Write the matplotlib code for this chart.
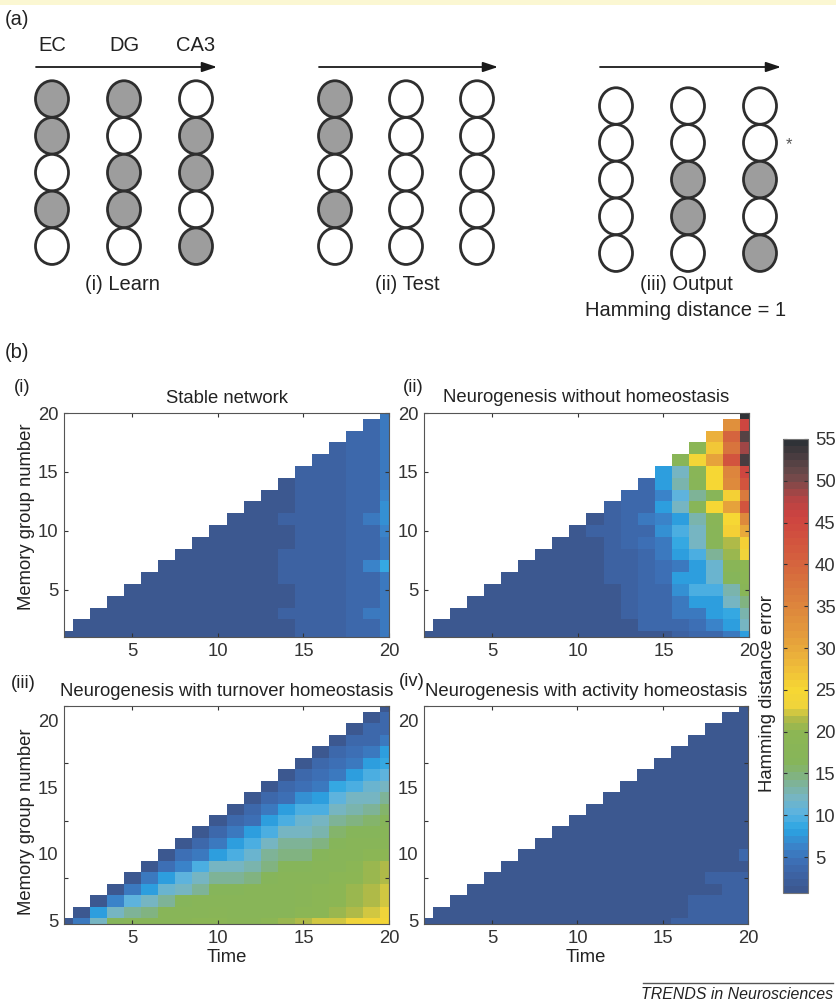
import numpy as np
import matplotlib
matplotlib.use('Agg')
import matplotlib.pyplot as plt
from matplotlib.colors import LinearSegmentedColormap
from matplotlib.patches import Ellipse, Rectangle

plt.rcParams['font.family'] = ['Liberation Sans', 'DejaVu Sans']

# (a) cell activity, 1 = active (grey), listed top to bottom
learn_ec = [1, 1, 0, 1, 0]
learn_dg = [1, 0, 1, 1, 0]
learn_ca3 = [0, 1, 1, 0, 1]
test_ec = [1, 1, 0, 1, 0]
test_dg = [0, 0, 0, 0, 0]
test_ca3 = [0, 0, 0, 0, 0]
out_ec = [0, 0, 0, 0, 0]
out_dg = [0, 0, 1, 1, 0]
out_ca3 = [0, 0, 1, 0, 1]

# (b) Hamming distance error, one list per time step (memory group 1..t)
stable = [
    [1],
    [1, 1],
    [1, 1, 1],
    [1, 1, 1, 1],
    [1, 1, 1, 1, 1],
    [1, 1, 1, 1, 1, 1],
    [1, 1, 1, 1, 1, 1, 1],
    [1, 1, 1, 1, 1, 1, 1, 1],
    [1, 1, 1, 1, 1, 1, 1, 1, 1],
    [1, 1, 1, 1, 1, 1, 1, 1, 1, 1],
    [1, 1, 1, 1, 1, 1, 1, 1, 1, 1, 1],
    [1, 1, 1, 1, 1, 1, 1, 1, 1, 1, 1, 1],
    [1, 1, 1, 1, 1, 1, 1, 1, 1, 1, 1, 1, 1],
    [1, 1, 3, 1, 1, 3, 3, 3, 1, 1, 3, 1, 1, 1],
    [3, 3, 3, 3, 3, 3, 3, 3, 3, 3, 3, 3, 3, 3, 3],
    [3, 3, 3, 3, 3, 3, 3, 3, 3, 3, 3, 3, 3, 3, 3, 3],
    [3.2, 3.2, 3.2, 3.2, 3.2, 3.2, 3.2, 3.2, 3.2, 3.2, 3.2, 3.2, 3.2, 3.2, 3.2, 3.2, 3.2],
    [3.5, 3.5, 3.5, 3.5, 3.5, 3.5, 3.5, 3.5, 3.5, 3.5, 3.5, 3.5, 3.5, 3.5, 3.5, 3.5, 3.5, 3.5],
    [4, 4, 5.5, 4, 4, 4, 6, 4, 4, 4, 5.5, 4, 4, 4, 4, 4, 4, 4, 4],
    [5, 5, 5, 5.5, 5, 5.5, 8.5, 5.5, 5, 6, 7, 7, 6, 5, 5, 5, 5, 5, 5, 5.5],
]

no_homeostasis = [
    [1],
    [1, 1],
    [1, 1, 1],
    [1, 1, 1, 1],
    [1, 1, 1, 1, 1],
    [1, 1, 1, 1, 1, 1],
    [1, 1, 1, 1, 1, 1, 1],
    [1, 1, 1, 1, 1, 1, 1, 1],
    [1, 1, 1, 1, 1, 1, 1, 1, 1],
    [1, 1, 1, 1, 1, 1, 1, 1, 1, 1],
    [1, 1, 1, 1, 1, 1, 1, 1, 1, 3, 1],
    [1, 1, 1, 1, 1, 3, 3, 3, 3, 3, 3, 3],
    [1, 1, 3, 3, 3, 3, 3, 3, 3.5, 3.5, 3.5, 3.5, 3.5],
    [1, 4, 4, 4, 4, 4, 4, 4, 4.5, 4, 5, 4, 4, 4],
    [1.2, 4, 4, 4, 4, 4.5, 4.5, 5, 5, 7, 6, 8, 6, 8, 8],
    [3, 4, 5, 5, 7, 7.5, 5, 8, 8.5, 10, 8, 12, 10.5, 13, 12.5, 18],
    [3.5, 4.5, 5, 8, 9.5, 8, 8, 10, 12, 12.5, 13, 17, 14, 17, 18, 24, 19],
    [4, 6, 8, 8, 10, 11, 11, 14, 17.5, 17, 18, 24.5, 17, 24.5, 25, 31, 27, 29],
    [5, 8, 9, 12, 13, 16, 18, 21, 21.5, 25.5, 25, 31, 25.5, 34, 35, 43, 38, 40, 33],
    [8, 12, 13, 15, 18, 19, 20, 23, 26, 30, 34, 43, 37, 43, 45, 53, 49, 52, 45, 55],
]

turnover = [
    [1],
    [5, 1],
    [12.5, 8, 1],
    [16, 12, 6, 1],
    [17, 14, 10.5, 5.5, 1],
    [17, 15, 12, 8, 5, 1],
    [17.5, 17, 14, 11, 8, 4.5, 1],
    [18, 17, 16, 12.5, 10.5, 6.5, 4.5, 1],
    [19, 17.5, 17, 14, 12.5, 10, 5.5, 4, 1],
    [19, 18, 17, 16, 14, 12, 8, 5, 4, 1],
    [18, 17.5, 17, 16, 14, 12, 10, 8, 5, 4, 1],
    [18.5, 17, 17, 17, 15, 13, 11.5, 10, 8, 4.5, 4, 1],
    [20, 17, 17, 17, 16, 15, 13.5, 12, 10, 8, 5, 4, 1],
    [20.5, 17, 17, 17, 17, 16, 15, 14, 12, 10, 7.5, 4.5, 3.5, 1],
    [21.5, 19, 18.5, 18.5, 17, 16.5, 15, 13.5, 12.5, 11, 9.5, 7, 4.5, 3.5, 1],
    [22, 19, 19, 19, 17.5, 17, 16, 15, 13, 12, 10, 8, 5.5, 4.5, 3.5, 1],
    [22.5, 20.5, 20, 20, 19, 17.5, 17, 16.5, 15.5, 14, 12, 10.5, 8.5, 5, 4.5, 3.5, 1],
    [23, 21.5, 21, 21, 20, 19, 17.5, 17, 16, 15, 13, 12, 10, 8, 5.5, 4.5, 3.5, 1],
    [24, 22, 21.5, 21.5, 21, 20.5, 19, 17, 16.5, 15.5, 14, 12.5, 11, 9.5, 8, 5, 4, 3.5, 1],
    [24, 23, 22, 22, 21.5, 21.5, 20, 18, 17, 16.5, 15.5, 14, 12, 10.5, 8.5, 8, 5, 4, 3.5, 1],
]

activity = [
    [1],
    [1, 1],
    [1, 1, 1],
    [1, 1, 1, 1],
    [1, 1, 1, 1, 1],
    [1, 1, 1, 1, 1, 1],
    [1, 1, 1, 1, 1, 1, 1],
    [1, 1, 1, 1, 1, 1, 1, 1],
    [1, 1, 1, 1, 1, 1, 1, 1, 1],
    [1, 1, 1, 1, 1, 1, 1, 1, 1, 1],
    [1, 1, 1, 1, 1, 1, 1, 1, 1, 1, 1],
    [1, 1, 1, 1, 1, 1, 1, 1, 1, 1, 1, 1],
    [1, 1, 1, 1, 1, 1, 1, 1, 1, 1, 1, 1, 1],
    [1, 1, 1, 1, 1, 1, 1, 1, 1, 1, 1, 1, 1, 1],
    [1, 1, 1, 1, 1, 1, 1, 1, 1, 1, 1, 1, 1, 1, 1],
    [3, 1, 1, 1, 1, 1, 1, 1, 1, 1, 1, 1, 1, 1, 1, 1],
    [3, 3, 3, 1, 1, 1, 1, 1, 1, 1, 1, 1, 1, 1, 1, 1, 1],
    [3, 3, 3, 1, 3, 1, 1, 1, 1, 1, 1, 1, 1, 1, 1, 1, 1, 1],
    [3, 3, 3, 3, 3, 1, 1, 1, 1, 1, 1, 1, 1, 1, 1, 1, 1, 1, 1],
    [3, 3, 3, 3, 3, 1, 3.5, 1, 1, 1, 1, 1, 1, 1, 1, 1, 1, 1, 1, 1],
]

titles = ['Stable network', 'Neurogenesis without homeostasis',
          'Neurogenesis with turnover homeostasis', 'Neurogenesis with activity homeostasis']
cbar_ticks = [5, 10, 15, 20, 25, 30, 35, 40, 45, 50, 55]

VMIN, VMAX = 0.7, 55
stops = [(0.7, '#3c5890'), (2.5, '#3d62a3'), (4, '#3d6db3'), (6, '#3a84ca'), (8, '#2aa5e3'),
         (10, '#5cb3e0'), (12, '#77b5c0'), (14, '#7fb38e'), (16, '#86b55a'), (20, '#8db653'),
         (21.5, '#b2ba47'), (23, '#f0d43a'), (25, '#f6d733'), (28, '#eeb93a'), (32, '#e3993c'),
         (37, '#d9793d'), (42, '#d3593e'), (46, '#cd4340'), (48, '#b84444'), (51, '#6c4a4b'),
         (55, '#2f3237')]
cmap = LinearSegmentedColormap.from_list(
    'hd', [((v - VMIN) / (VMAX - VMIN), c) for v, c in stops], N=64)
cmap.set_bad('white')

W, H = 836, 1002
fig = plt.figure(figsize=(W / 100, H / 100), dpi=100)

# overlay in pixel coordinates for panel (a) and free text
ax0 = fig.add_axes([0, 0, 1, 1])
ax0.set_xlim(0, W)
ax0.set_ylim(H, 0)
ax0.axis('off')
ax0.add_patch(Rectangle((0, 0), W, 5, color='#fbf7d2', lw=0))

TXT = '#222222'
fa = 14.5
ax0.text(17, 19, '(a)', fontsize=fa, ha='center', va='center', color=TXT)
for x, s in zip([52, 124, 196], ['EC', 'DG', 'CA3']):
    ax0.text(x, 45, s, fontsize=fa, ha='center', va='center', color=TXT)

groups = [([52, 124, 196], 99, [learn_ec, learn_dg, learn_ca3]),
          ([335, 406, 477], 99, [test_ec, test_dg, test_ca3]),
          ([616, 688, 760], 106, [out_ec, out_dg, out_ca3])]
for xs, y0, pats in groups:
    ax0.annotate('', xy=(xs[2] + 21, 67), xytext=(xs[0] - 16, 67),
                 arrowprops=dict(arrowstyle='-|>,head_length=0.9,head_width=0.3',
                                 lw=1.3, color='#1a1a1a', shrinkA=0, shrinkB=0))
    for x, pat in zip(xs, pats):
        for i, on in enumerate(pat):
            ax0.add_patch(Ellipse((x, y0 + 36.8 * i), 33, 36.5,
                                  facecolor='#9d9d9d' if on else 'white',
                                  edgecolor='#2e2e2e', lw=2.0))

ax0.text(122, 285, '(i) Learn', fontsize=fa, ha='center', va='center', color=TXT)
ax0.text(407, 285, '(ii) Test', fontsize=fa, ha='center', va='center', color=TXT)
ax0.text(686, 285, '(iii) Output', fontsize=fa, ha='center', va='center', color=TXT)
ax0.text(686, 311, 'Hamming distance = 1', fontsize=fa, ha='center', va='center', color=TXT)
ax0.text(789, 145, '*', fontsize=12, ha='center', va='center', color='#555555')

ax0.text(17, 352, '(b)', fontsize=fa, ha='center', va='center', color=TXT)

# (b) heat maps
fb = 13.3
rects = [(64, 413, 389, 637), (424, 413, 749, 637), (64, 706, 389, 924), (424, 706, 748, 924)]
data = [stable, no_homeostasis, turnover, activity]
tags = ['(i)', '(ii)', '(iii)', '(iv)']
tag_xy = [(22, 388), (413, 388), (23, 683), (412, 682)]
title_y = [403, 402, 696, 696]
ylabel_y = [0.536, None, 0.468, None]
edges = np.arange(0.5, 21.0, 1.0)

for k, (x0, y0, x1, y1) in enumerate(rects):
    ax = fig.add_axes([x0 / W, 1 - y1 / H, (x1 - x0) / W, (y1 - y0) / H])
    grid = np.full((20, 20), np.nan)
    for t, col in enumerate(data[k]):
        grid[:len(col), t] = col
    mesh = ax.pcolormesh(edges, edges, np.ma.masked_invalid(grid), cmap=cmap,
                         vmin=VMIN, vmax=VMAX)
    ax.set_xlim(1, 20)
    ax.set_ylim(1, 20)
    ax.set_xticks([5, 10, 15, 20])
    ax.set_yticks([5, 10, 15, 20])
    ax.tick_params(direction='in', top=True, right=True, length=3, width=0.8,
                   labelsize=fb, colors='#333333', pad=4)
    for sp in ax.spines.values():
        sp.set_color('#555555')
        sp.set_linewidth(0.8)
    if k >= 2:
        ax.set_yticklabels(['', '', '', ''])
        for yv, s in zip([1.09, 6.93, 12.68, 18.52], ['5', '10', '15', '20']):
            ax.text(-0.017, yv, s, transform=ax.get_yaxis_transform(), fontsize=fb,
                    ha='right', va='center', color='#333333')
        ax.set_xlabel('Time', fontsize=fb, color=TXT, labelpad=2)
    if k % 2 == 0:
        ax.set_ylabel('Memory group number', fontsize=fb, color=TXT)
        ax.yaxis.set_label_coords((35 - 64) / 325, ylabel_y[k])
    cx = (x0 + x1) / 2
    ax0.text(cx, title_y[k], titles[k], fontsize=fb, ha='center', va='baseline', color=TXT)
    ax0.text(tag_xy[k][0], tag_xy[k][1], tags[k], fontsize=fb, ha='center', va='center',
             color=TXT)

cax = fig.add_axes([783 / W, 1 - 893 / H, 25 / W, 454 / H])
cb = fig.colorbar(mesh, cax=cax, ticks=cbar_ticks)
cb.outline.set_edgecolor('#777777')
cb.outline.set_linewidth(0.8)
cax.tick_params(direction='in', left=True, right=True, length=3, width=0.8,
                labelsize=fb, colors='#333333', pad=5)
ax0.text(768, 694, 'Hamming distance error', fontsize=fb, rotation=90,
         ha='center', va='center', color=TXT)

# journal footer
ax0.plot([643, 833], [983, 983], color='#555555', lw=1.0)
ax0.text(833, 999, 'TRENDS in Neurosciences', fontsize=11.4, style='italic',
         ha='right', va='baseline', color=TXT)

fig.savefig('out.png', dpi=100)
